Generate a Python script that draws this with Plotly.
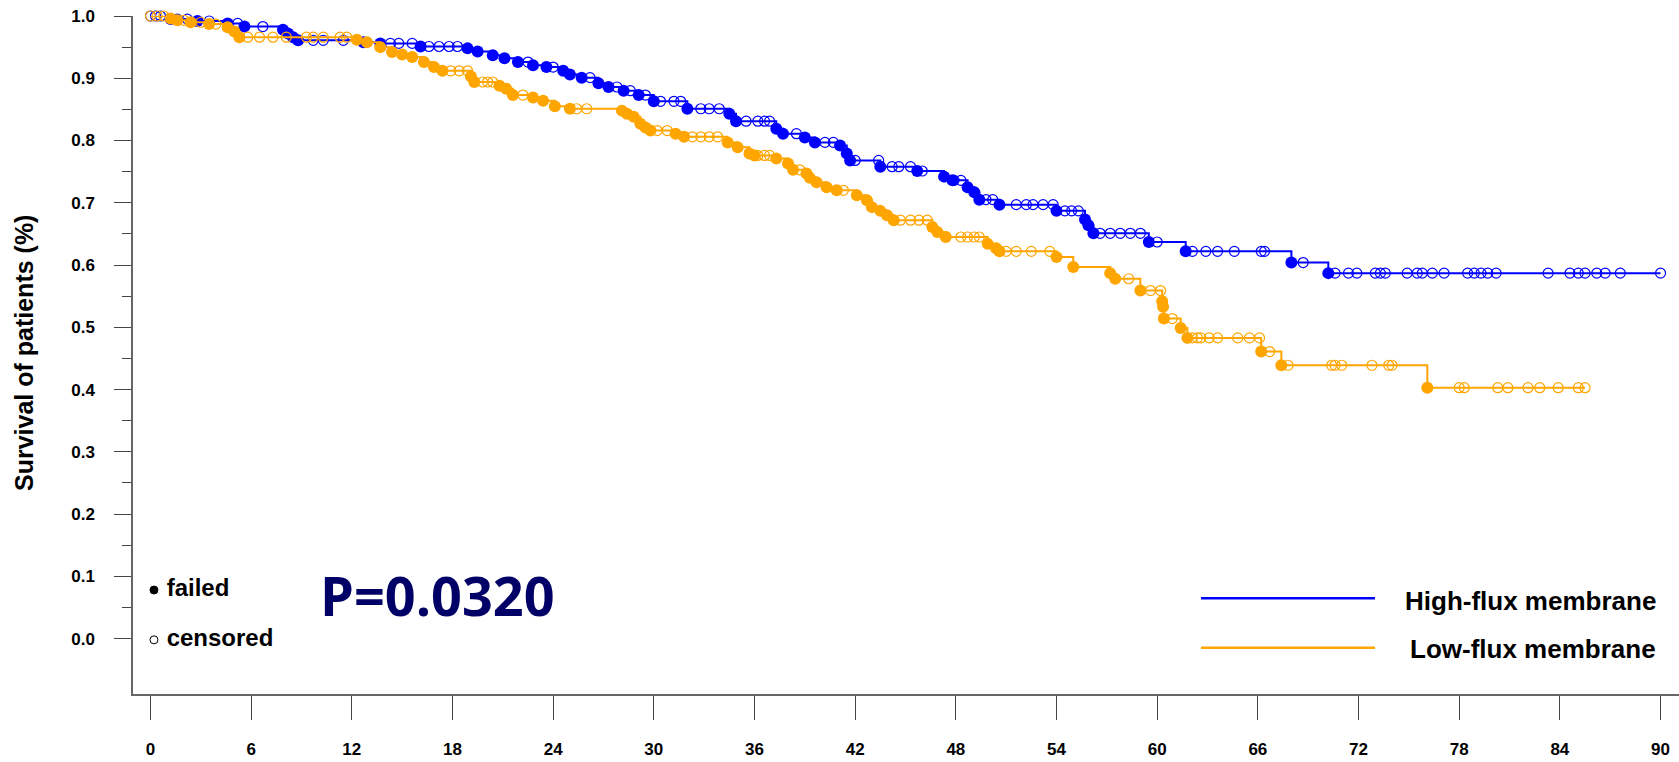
import bisect
import plotly.graph_objects as go

# ---------------- data ----------------
high_event_t = [1.2, 2.8, 4.6, 5.6, 7.9, 8.2, 8.5, 8.8, 12.7, 13.7, 16.1, 18.9, 19.5, 20.4, 21.1, 21.9,
                22.8, 23.6, 24.6, 25.0, 25.7, 26.7, 27.3, 28.2, 29.1, 30.0, 32.0, 34.5, 34.9, 37.3, 37.7,
                39.0, 39.6, 41.1, 41.5, 41.7, 43.5, 45.7, 47.3, 47.8, 48.7, 49.1, 49.4, 50.6, 54.0, 55.7,
                55.9, 56.2, 59.5, 61.7, 68.0, 70.2]
high_event_s = [0.995, 0.992, 0.988, 0.983, 0.978, 0.972, 0.966, 0.961, 0.958, 0.956, 0.951, 0.948, 0.943,
                0.937, 0.932, 0.926, 0.921, 0.918, 0.912, 0.906, 0.901, 0.892, 0.886, 0.880, 0.873, 0.863,
                0.851, 0.843, 0.831, 0.819, 0.811, 0.805, 0.797, 0.792, 0.779, 0.768, 0.758, 0.751, 0.742,
                0.736, 0.725, 0.717, 0.705, 0.697, 0.687, 0.673, 0.664, 0.651, 0.637, 0.622, 0.604, 0.587]
high_cens_t = [0.0, 0.3, 0.6, 1.6, 2.2, 3.5, 5.2, 6.7, 9.7, 10.3, 11.5, 14.3, 14.8, 15.6, 16.6, 17.2, 17.8,
               18.3, 22.5, 24.0, 26.2, 27.8, 28.6, 29.5, 30.4, 31.2, 31.6, 32.8, 33.3, 33.9, 35.5, 36.2,
               36.6, 36.9, 38.5, 40.2, 40.7, 42.0, 43.4, 44.2, 44.6, 45.3, 46.0, 47.9, 48.3, 49.8, 50.2,
               51.6, 52.2, 52.6, 53.2, 53.8, 54.5, 54.9, 55.3, 56.6, 57.2, 57.8, 58.4, 59.0, 60.0, 62.1,
               62.9, 63.6, 64.6, 66.2, 66.4, 68.7, 70.6, 71.4, 71.9, 73.0, 73.3, 73.6, 74.9, 75.5, 75.8,
               76.4, 77.1, 78.5, 78.9, 79.3, 79.7, 80.2, 83.3, 84.6, 85.1, 85.5, 86.2, 86.7, 87.6, 90.0]

low_event_t = [1.2, 1.6, 2.4, 3.5, 4.6, 5.0, 5.3, 12.3, 12.9, 13.7, 14.4, 15.0, 15.6, 16.3, 16.9, 17.4,
               19.1, 19.3, 20.8, 21.2, 21.6, 22.8, 23.4, 24.1, 25.0, 28.1, 28.4, 28.8, 29.2, 29.5, 29.8,
               31.3, 31.8, 34.4, 35.0, 35.7, 36.0, 37.3, 38.0, 38.3, 39.1, 39.3, 39.7, 40.3, 40.9, 42.1,
               42.7, 43.0, 43.5, 43.9, 44.3, 46.6, 46.9, 47.4, 49.9, 50.4, 50.6, 54.0, 55.0, 57.2, 57.5,
               59.0, 60.3, 60.35, 60.4, 61.4, 61.8, 66.2, 67.4, 76.1]
low_event_s = [0.996, 0.993, 0.990, 0.987, 0.982, 0.975, 0.966, 0.962, 0.958, 0.950, 0.942, 0.938, 0.934,
               0.926, 0.918, 0.912, 0.903, 0.894, 0.888, 0.883, 0.873, 0.869, 0.864, 0.855, 0.851, 0.848,
               0.843, 0.838, 0.827, 0.821, 0.816, 0.811, 0.806, 0.797, 0.789, 0.779, 0.776, 0.771, 0.763,
               0.753, 0.747, 0.740, 0.733, 0.725, 0.720, 0.712, 0.704, 0.693, 0.687, 0.680, 0.672, 0.661,
               0.653, 0.645, 0.634, 0.627, 0.622, 0.613, 0.597, 0.587, 0.578, 0.559, 0.542, 0.533, 0.514,
               0.499, 0.483, 0.461, 0.439, 0.403]
low_cens_t = [0.0, 0.4, 0.8, 2.0, 3.0, 3.9, 5.8, 6.5, 7.3, 8.1, 9.3, 9.7, 10.3, 11.3, 11.7, 17.9, 18.4,
              18.9, 19.8, 20.1, 20.4, 22.2, 25.4, 26.0, 30.2, 30.8, 32.3, 32.8, 33.3, 33.8, 36.2, 36.6,
              36.9, 38.7, 41.3, 44.7, 45.3, 45.8, 46.3, 48.3, 48.7, 49.1, 49.4, 51.0, 51.6, 52.5, 53.6,
              58.3, 59.6, 60.2, 60.9, 62.1, 62.4, 62.6, 63.1, 63.6, 64.8, 65.5, 66.1, 66.7, 67.8, 70.4,
              70.6, 71.0, 72.8, 73.8, 74.0, 78.0, 78.3, 80.3, 80.9, 82.1, 82.8, 83.9, 85.1, 85.5]

x_ticks = list(range(0, 91, 6))
y_ticks = [0.0, 0.1, 0.2, 0.3, 0.4, 0.5, 0.6, 0.7, 0.8, 0.9, 1.0]
y_minor = [0.05, 0.15, 0.25, 0.35, 0.45, 0.55, 0.65, 0.75, 0.85, 0.95]
group_names = ["High-flux membrane", "Low-flux membrane"]
key_labels = ["failed", "censored"]
p_text = "P=0.0320"
y_title = "Survival of patients (%)"

BLUE = "#0000ff"
ORANGE = "#ffa500"
ARIAL = "Liberation Sans, Arial, sans-serif"


def level_at(ev_t, ev_s, t):
    i = bisect.bisect_right(ev_t, t)
    return 1.0 if i == 0 else ev_s[i - 1]


fig = go.Figure()

for ev_t, ev_s, cens_t, color in [(high_event_t, high_event_s, high_cens_t, BLUE),
                                   (low_event_t, low_event_s, low_cens_t, ORANGE)]:
    end_t = max(cens_t[-1], ev_t[-1])
    line_x = [0.0] + ev_t + [end_t]
    line_y = [1.0] + ev_s + [ev_s[-1]]
    fig.add_trace(go.Scatter(x=line_x, y=line_y, mode="lines", line=dict(color=color, width=2, shape="hv"),
                             hoverinfo="skip", showlegend=False, cliponaxis=False))
    cy = [level_at(ev_t, ev_s, t) for t in cens_t]
    fig.add_trace(go.Scatter(x=cens_t, y=cy, mode="markers",
                             marker=dict(symbol="circle-open", size=10, color=color, line=dict(width=1.2)),
                             showlegend=False, cliponaxis=False))
    fig.add_trace(go.Scatter(x=ev_t, y=ev_s, mode="markers",
                             marker=dict(symbol="circle", size=12, color=color),
                             showlegend=False, cliponaxis=False))

# failed / censored key
fig.add_trace(go.Scatter(x=[0.21, 0.21], y=[0.078, -0.002], mode="markers+text",
                         marker=dict(symbol=["circle", "circle-open"], size=8, color="black",
                                     line=dict(width=1, color="black")),
                         text=[" " + s for s in key_labels], textposition="middle right",
                         textfont=dict(family=ARIAL, size=24, color="black", weight="bold"),
                         showlegend=False, cliponaxis=False, hoverinfo="skip"))

W, H = 1679, 762
L, R, T, B = 133, 0, 16, 68
pw, ph = W - L - R, H - T - B


def px(xp):
    return (xp - L) / pw


def py(yp):
    return (H - B - yp) / ph


fig.add_shape(type="line", xref="paper", yref="paper", x0=px(1201), x1=px(1375), y0=py(598.3), y1=py(598.3),
              line=dict(color=BLUE, width=2.5))
fig.add_shape(type="line", xref="paper", yref="paper", x0=px(1201), x1=px(1375), y0=py(647.7), y1=py(647.7),
              line=dict(color=ORANGE, width=2.5))
fig.add_annotation(xref="paper", yref="paper", x=px(1658), y=py(601), xanchor="right", yanchor="middle",
                   text=group_names[0], showarrow=False,
                   font=dict(family=ARIAL, size=26, color="black", weight="bold"))
fig.add_annotation(xref="paper", yref="paper", x=px(1658), y=py(649), xanchor="right", yanchor="middle",
                   text=group_names[1], showarrow=False,
                   font=dict(family=ARIAL, size=26, color="black", weight="bold"))
fig.add_annotation(xref="paper", yref="paper", x=px(437), y=py(595), xanchor="center", yanchor="middle",
                   text=p_text, showarrow=False,
                   font=dict(family="Open Sans, DejaVu Sans, sans-serif", size=54, color="#000066", weight="bold"))
fig.add_annotation(xref="paper", yref="paper", x=px(24), y=py(353), xanchor="center", yanchor="middle",
                   text=y_title, textangle=-90, showarrow=False,
                   font=dict(family=ARIAL, size=25, color="black", weight="bold"))

tickfont = dict(family=ARIAL, size=17, color="black", weight="bold")
fig.update_layout(
    width=W, height=H,
    margin=dict(l=L, r=R, t=T, b=B, pad=0, autoexpand=False),
    paper_bgcolor="white", plot_bgcolor="white",
    xaxis=dict(range=[-1.04, 91.1], tickvals=x_ticks, ticktext=[str(v) for v in x_ticks],
               ticks="outside", ticklen=24, tickwidth=1, tickcolor="#444",
               showline=True, linecolor="#666", linewidth=1.5, showgrid=False, zeroline=False,
               tickfont=tickfont, ticklabelstandoff=15, automargin=False),
    yaxis=dict(range=[-0.089, 1.0], tickvals=y_ticks, ticktext=[f"{v:.1f}" for v in y_ticks],
               ticks="outside", ticklen=17, tickwidth=1, tickcolor="#444",
               minor=dict(tickvals=y_minor, ticks="outside", ticklen=9, tickwidth=1, tickcolor="#444"),
               showline=True, linecolor="#666", linewidth=1.5, showgrid=False, zeroline=False,
               tickfont=tickfont, ticklabelstandoff=16, automargin=False),
)

fig.write_html("out.html")
